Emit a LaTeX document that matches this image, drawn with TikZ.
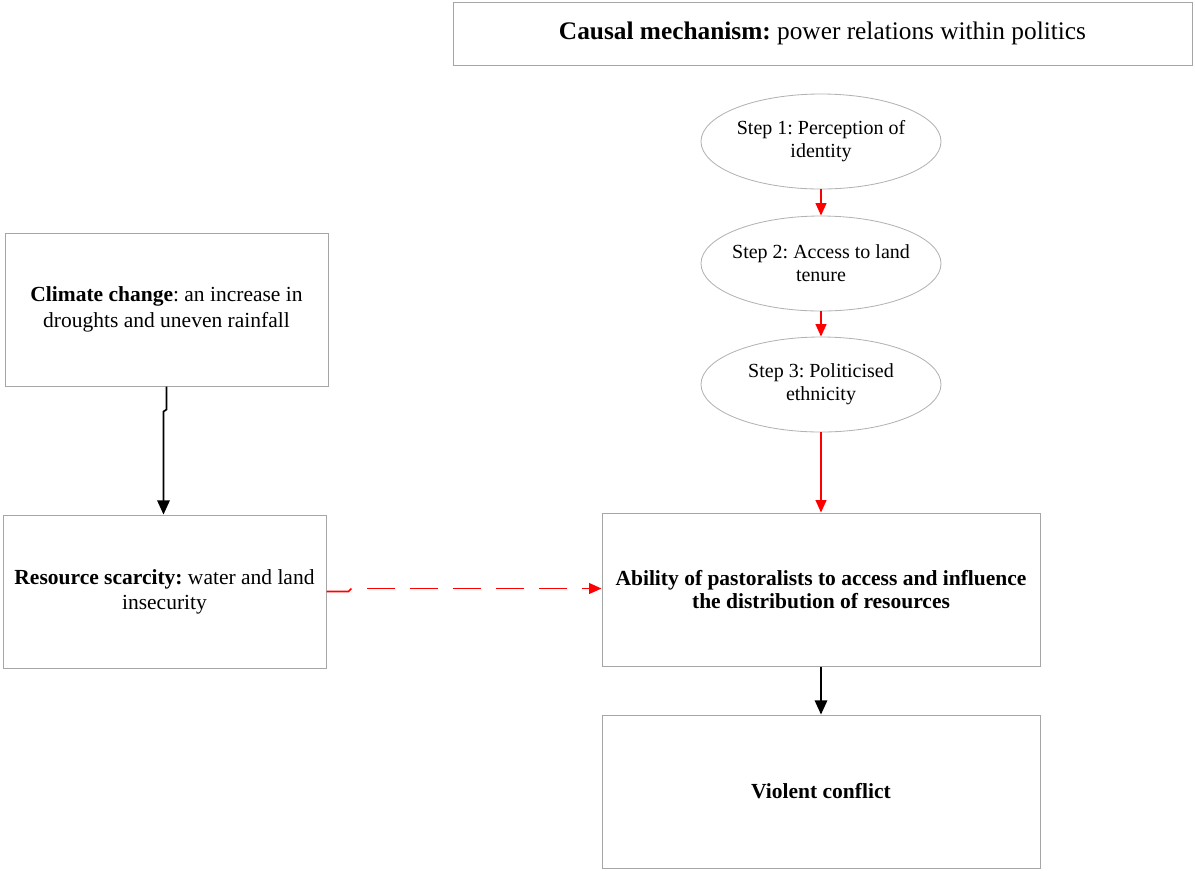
\documentclass[tikz,border=0pt]{standalone}
\usepackage{fontspec}
\setmainfont{Liberation Serif}
\frenchspacing
\usetikzlibrary{shapes.geometric,arrows.meta}
\tikzset{
  box/.style={draw=gray!70, line width=0.6pt, minimum width=262.8pt, minimum height=91.8pt, inner sep=2pt, align=center, font=\fontsize{12.9}{14}\selectfont},
  stepnode/.style={ellipse, draw=gray!60, line width=0.5pt, minimum width=144pt, minimum height=57pt, inner xsep=-14pt, inner ysep=0pt, align=center, font=\fontsize{12}{13.8}\selectfont},
  redarrow/.style={draw=red, line width=1pt, -{Triangle[width=6.5pt,length=7.5pt]}},
  blackarrow/.style={draw=black, line width=1pt, -{Triangle[width=7.5pt,length=8.5pt]}},
}

\begin{document}
\begin{tikzpicture}[x=0.6pt, y=-0.6pt]
\useasboundingbox (0,0) rectangle (1195,870);
\node[box, minimum width=443.4pt, minimum height=37.8pt, font=\fontsize{15.2}{18}\selectfont] at (822.5, 33.5) (mech) {\textbf{Causal mechanism:} power relations within politics};
\node[stepnode] at (821, 141.5) (s1) {Step 1: Perception of\\identity};
\node[stepnode] at (821, 263.5) (s2) {Step 2: Access to land\\tenure};
\node[stepnode] at (821, 384.5) (s3) {Step 3: Politicised\\ethnicity};
\node[box, minimum width=193.8pt, font=\fontsize{12.9}{15.6}\selectfont] at (166.5, 309.5) (climate) {\textbf{Climate change}: an increase in\\droughts and uneven rainfall};
\node[box, minimum width=193.8pt, font=\fontsize{12.9}{15}\selectfont] at (164.5, 591.5) (scarcity) {\textbf{Resource scarcity:} water and land\\insecurity};
\node[box] at (821, 589.5) (ability) {\textbf{Ability of pastoralists to access and influence}\\\textbf{the distribution of resources}};
\node[box] at (821, 791.5) (conflict) {\textbf{Violent conflict}};
\draw[redarrow] (s1) -- (s2);
\draw[redarrow] (s2) -- (s3);
\draw[redarrow] (s3) -- (ability);
\draw[blackarrow] (ability) -- (conflict);
\draw[blackarrow] (climate.south) -- ++(0,23) -- ++(-3,2) coordinate (kink) -- (kink |- scarcity.north);
\draw[red, line width=1pt] (scarcity.east) -- ++(22,0) -- ++(3,-3) coordinate (dashstart);
\draw[redarrow, dash pattern=on 16.8pt off 9pt, dash phase=-9pt] (dashstart) -- (ability.west |- dashstart);
\end{tikzpicture}
\end{document}
